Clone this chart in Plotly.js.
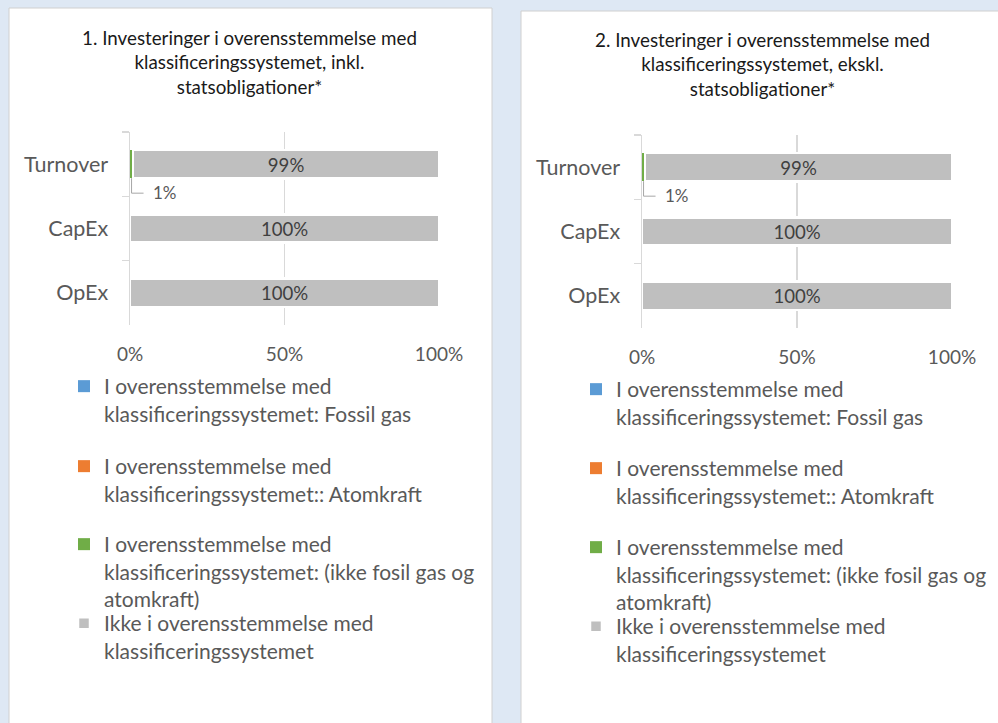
<!DOCTYPE html>
<html>
<head>
<meta charset="utf-8">
<script src="https://cdn.plot.ly/plotly-3.0.1.min.js"></script>
<style>
html,body{margin:0;padding:0;background:#dee8f4;}
#chart{width:998px;height:723px;}
</style>
</head>
<body>
<div id="chart"></div>
<script>
// ---- data ----
const categories = ['Turnover', 'CapEx', 'OpEx'];
const seriesNames = [
  'I overensstemmelse med<br>klassificeringssystemet: Fossil gas',
  'I overensstemmelse med<br>klassificeringssystemet:: Atomkraft',
  'I overensstemmelse med<br>klassificeringssystemet: (ikke fosil gas og<br>atomkraft)',
  'Ikke i overensstemmelse med<br>klassificeringssystemet'
];
// panel 1: incl. government bonds
const p1FossilGas = [0, 0, 0];
const p1Nuclear = [0, 0, 0];
const p1Aligned = [1, 0, 0];
const p1NotAligned = [99, 100, 100];
// panel 2: excl. government bonds
const p2FossilGas = [0, 0, 0];
const p2Nuclear = [0, 0, 0];
const p2Aligned = [1, 0, 0];
const p2NotAligned = [99, 100, 100];
const xTickVals = [0, 50, 100];
const xTickText = ['0%', '50%', '100%'];
const panelTitles = [
  '1. Investeringer i overensstemmelse med<br>klassificeringssystemet, inkl.<br>statsobligationer*',
  '2. Investeringer i overensstemmelse med<br>klassificeringssystemet, ekskl.<br>statsobligationer*'
];

// ---- styling / layout ----
const W = 998, H = 723;
const px = v => v / W;
const py = v => 1 - v / H;
const colors = ['#5b9bd5', '#ed7d31', '#70ad47', '#bfbfbf'];
const FONT = 'Lato, "Noto Sans", sans-serif';
const grey = '#595959';

const panels = [
  {data: [p1FossilGas, p1Nuclear, p1Aligned, p1NotAligned], xa: 'x', ya: 'y',
   xdom: [130, 439], ydom: [132, 325], box: [9, 8, 492, 740], titleX: 250, titleY: 24,
   legX: 64, legY: [366, 446, 524, 603]},
  {data: [p2FossilGas, p2Nuclear, p2Aligned, p2NotAligned], xa: 'x2', ya: 'y2',
   xdom: [642, 952], ydom: [135, 328], box: [521, 11, 1010, 740], titleX: 762, titleY: 26,
   legX: 576, legY: [369, 448, 527, 606]}
];

const traces = [];
const layout = {
  width: W, height: H,
  margin: {l: 0, r: 0, t: 0, b: 0},
  paper_bgcolor: '#dee8f4',
  plot_bgcolor: 'rgba(0,0,0,0)',
  showlegend: true,
  barmode: 'stack',
  bargap: 0.56,
  font: {family: FONT, color: grey, size: 19},
  shapes: [], annotations: []
};

let legendIdx = 0;
panels.forEach((p, pi) => {
  p.data.forEach((vals, si) => {
    legendIdx++;
    const lname = legendIdx === 1 ? 'legend' : 'legend' + legendIdx;
    const isRest = si === 3;
    traces.push({
      type: 'bar', orientation: 'h',
      x: vals, y: categories,
      name: seriesNames[si],
      xaxis: p.xa, yaxis: p.ya,
      legend: lname, showlegend: true,
      marker: {color: colors[si], line: {color: '#ffffff', width: isRest ? 2.5 : 0}},
      text: isRest ? vals.map(v => v + '%') : undefined,
      textposition: isRest ? 'inside' : 'none',
      insidetextanchor: 'middle',
      textfont: {family: FONT, size: 20, color: '#404040'},
      hoverinfo: 'x+y+name'
    });
    layout[lname] = {
      x: px(p.legX), y: py(p.legY[si]), xanchor: 'left', yanchor: 'top',
      valign: 'top',
      bgcolor: 'rgba(0,0,0,0)', borderwidth: 0,
      font: {family: FONT, size: 21, color: grey}
    };
  });
  const xk = p.xa === 'x' ? 'xaxis' : 'xaxis2';
  const yk = p.ya === 'y' ? 'yaxis' : 'yaxis2';
  layout[xk] = {
    domain: [px(p.xdom[0]), px(p.xdom[1])],
    anchor: p.ya, range: [0, 100],
    tickvals: xTickVals, ticktext: xTickText,
    showgrid: true, gridcolor: '#d9d9d9', gridwidth: 1.5,
    zeroline: false, showline: false, ticks: '',
    ticklabelstandoff: 16,
    tickfont: {family: FONT, size: 19, color: grey},
    fixedrange: true
  };
  layout[yk] = {
    domain: [py(p.ydom[1]), py(p.ydom[0])],
    anchor: p.xa, type: 'category',
    range: [2.5, -0.5],
    showline: true, linecolor: '#d9d9d9', linewidth: 1.5,
    ticks: 'outside', tickson: 'boundaries', ticklen: 7, tickcolor: '#d9d9d9', tickwidth: 1.5,
    ticklabelstandoff: 16,
    showgrid: false, zeroline: false,
    tickfont: {family: FONT, size: 21.5, color: grey},
    fixedrange: true
  };
  // panel background box
  layout.shapes.push({
    type: 'rect', xref: 'paper', yref: 'paper', layer: 'below',
    x0: px(p.box[0]), x1: px(p.box[2]), y0: py(p.box[3]), y1: py(p.box[1]),
    fillcolor: '#ffffff', line: {color: '#d0d0d0', width: 1}
  });
  // title
  layout.annotations.push({
    xref: 'paper', yref: 'paper', x: px(p.titleX), y: py(p.titleY),
    xanchor: 'center', yanchor: 'top', showarrow: false,
    text: panelTitles[pi], align: 'center',
    font: {family: FONT, size: 18.8, color: '#1a1a1a'}
  });
  // small aligned-share labels with leader lines
  const aligned = p.data[2];
  aligned.forEach((v, ci) => {
    if (v > 0) {
      layout.shapes.push({
        type: 'path', xref: p.xa, yref: p.ya,
        xsizemode: 'pixel', ysizemode: 'pixel',
        xanchor: v / 2, yanchor: categories[ci],
        path: 'M0,-14 L0,-29 L12,-29',
        line: {color: '#a6a6a6', width: 1}
      });
      layout.annotations.push({
        xref: p.xa, yref: p.ya, x: v / 2, y: categories[ci],
        xanchor: 'left', yanchor: 'middle', xshift: 19, yshift: -28,
        showarrow: false, text: v + '%',
        font: {family: FONT, size: 17, color: grey}
      });
    }
  });
});

Plotly.newPlot('chart', traces, layout, {displayModeBar: false, staticPlot: true});
</script>
</body>
</html>
